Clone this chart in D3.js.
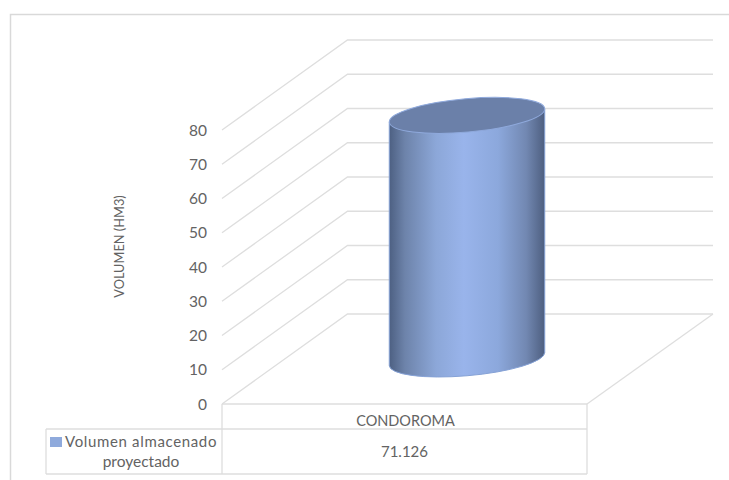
<!DOCTYPE html>
<html><head><meta charset="utf-8"><script src="https://cdn.jsdelivr.net/npm/d3@7"></script>
<style>html,body{margin:0;background:#fff}svg{display:block}text{font-family:Lato,sans-serif;fill:#636363}</style></head>
<body><svg id="c" width="729" height="480"></svg><script>
const categories = ["CONDOROMA"];
const seriesName = ["Volumen almacenado", "proyectado"];
const seriesValues = [71.126];
const valueLabels = ["71.126"];
const yTicks = [0,10,20,30,40,50,60,70,80];
const yTitle = "VOLUMEN (HM3)";

const svg = d3.select("#c");
const grid = "#dedede";
const y = d3.scaleLinear().domain([0,80]).range([404,130]);
const depth = {dx:125.5, dy:-90};
const xL = 222, xR = 587;
const line = (x1,y1,x2,y2,w=1.3,c=grid)=>svg.append("line").attr("x1",x1).attr("y1",y1).attr("x2",x2).attr("y2",y2).attr("stroke",c).attr("stroke-width",w);

svg.append("path").attr("d","M10.5,480V14.5H729").attr("fill","none").attr("stroke","#d9d9d9").attr("stroke-width",1.5);

yTicks.forEach(t=>{
  const p=d3.path(); p.moveTo(xL,y(t)); p.lineTo(xL+depth.dx,y(t)+depth.dy); p.lineTo(713,y(t)+depth.dy);
  svg.append("path").attr("d",p.toString()).attr("fill","none").attr("stroke",grid).attr("stroke-width",1.3);
});
line(xR,y(0),xR+depth.dx+.5,y(0)+depth.dy);
svg.selectAll(".t").data(yTicks).join("text").attr("class","t").attr("x",207).attr("y",d=>y(d)+5.5)
  .attr("text-anchor","end").attr("font-size",15.5).text(d=>d);
svg.append("text").attr("transform",`translate(124,246.5) rotate(-90)`).attr("text-anchor","middle").attr("font-size",12.8).text(yTitle);

line(xL,404,xR,404); line(46,429,xR,429); line(46,474,xR,474);
line(46,429,46,474); line(xL,404,xL,474); line(xR,404,xR,474);
svg.append("text").attr("x",(xL+xR)/2+1).attr("y",425.5).attr("text-anchor","middle").attr("font-size",14.5).text(categories[0]);
svg.append("text").attr("x",(xL+xR)/2).attr("y",457).attr("text-anchor","middle").attr("font-size",15).text(valueLabels[0]);
svg.append("rect").attr("x",50).attr("y",437).attr("width",12).attr("height",10).attr("fill","#8faadc");
svg.append("text").attr("x",65).attr("y",447).attr("font-size",15).attr("letter-spacing",0.65).text(seriesName[0]);
svg.append("text").attr("x",141).attr("y",466.5).attr("text-anchor","middle").attr("font-size",15.5).text(seriesName[1]);

const defs = svg.append("defs");
const g = defs.append("linearGradient").attr("id","cyl");
[[0,"#4d6082"],[.1,"#6d83aa"],[.3,"#8ca7d8"],[.48,"#99b4eb"],[.7,"#8ca8dc"],[.88,"#7288b2"],[1,"#4e5f80"]]
  .forEach(([o,c])=>g.append("stop").attr("offset",o).attr("stop-color",c));
const cx = 467, cyBase = y(0)-45, hw = 77.75, rx = 78, ry = 16.7, rot = -5, sk = 6.5;
const hgt = y(0)-y(seriesValues[0]);
const yt = cyBase-hgt;
svg.append("path").attr("d",`M${cx-hw},${yt+sk}V${cyBase+sk}A${rx},${ry},${rot},0,0,${cx+hw},${cyBase-sk}V${yt-sk}Z`)
  .attr("fill","url(#cyl)").attr("stroke","#86a2d6").attr("stroke-width",1);
svg.append("ellipse").attr("transform",`translate(${cx},${yt}) rotate(${rot})`).attr("rx",rx).attr("ry",ry)
  .attr("fill","#6b80a9").attr("stroke","#8fa9dc").attr("stroke-width",1);
</script></body></html>
